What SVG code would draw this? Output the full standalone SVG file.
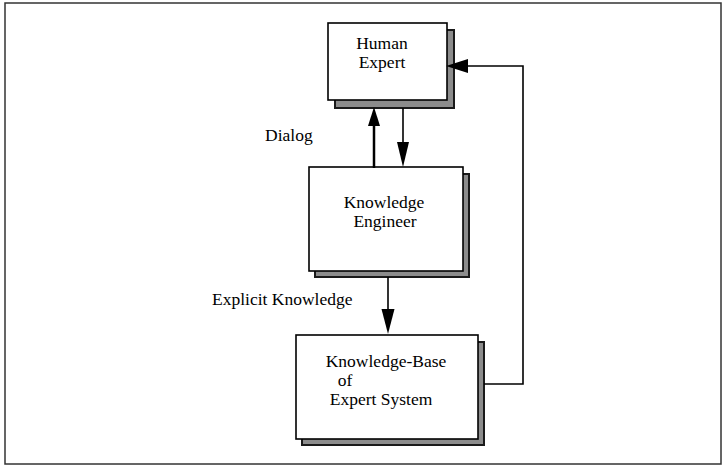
<svg xmlns="http://www.w3.org/2000/svg" width="724" height="469" viewBox="0 0 724 469">
<style>
.frame{fill:none;stroke:#333;stroke-width:1.5}
.box{fill:#fff;stroke:#000;stroke-width:1.6}
.shadow{fill:#8c8c8c;stroke:#1a1a1a;stroke-width:2}
.t{font-family:"Liberation Serif","Times New Roman",serif;font-size:17.5px;fill:#000}
.lbl{font-family:"Liberation Serif","Times New Roman",serif;font-size:17.5px;fill:#000}
.ln{fill:none;stroke:#000;stroke-width:1.6}
.head{fill:#000;stroke:none}
</style>
<rect width="724" height="469" fill="#fff"/>
<rect class="frame" x="5" y="3" width="716" height="461"/>
<g id="human-expert">
<rect class="shadow" x="335" y="30" width="119" height="78"/>
<rect class="box" x="328" y="23" width="119" height="77"/>
<text class="t" x="382" y="49" text-anchor="middle">Human</text>
<text class="t" x="382" y="68" text-anchor="middle">Expert</text>
</g>
<g id="knowledge-engineer">
<rect class="shadow" x="315" y="174" width="154" height="103"/>
<rect class="box" x="309" y="167" width="154" height="104"/>
<text class="t" x="384" y="208" text-anchor="middle">Knowledge</text>
<text class="t" x="385" y="227" text-anchor="middle">Engineer</text>
</g>
<g id="knowledge-base">
<rect class="shadow" x="302" y="342" width="182" height="103"/>
<rect class="box" x="296" y="335" width="182" height="104"/>
<text class="t" x="386" y="367" text-anchor="middle">Knowledge-Base</text>
<text class="t" x="345" y="386" text-anchor="middle">of</text>
<text class="t" x="381" y="405" text-anchor="middle">Expert System</text>
</g>
<g id="connectors">
<line class="ln" x1="374" y1="168" x2="374" y2="122" style="stroke-width:2.5"/>
<polygon class="head" points="374,107 368,126 380,126"/>
<line class="ln" x1="403" y1="108" x2="403" y2="145"/>
<polygon class="head" points="403,167 397,142 409,142"/>
<line class="ln" x1="388" y1="277" x2="388" y2="312"/>
<polygon class="head" points="388,334 381.5,309 394.5,309"/>
<polyline class="ln" points="484,384 523,384 523,66 465,66"/>
<polygon class="head" points="446,66 468,59 468,73"/>
</g>
<g id="labels">
<text class="lbl" x="265" y="141">Dialog</text>
<text class="lbl" x="212" y="305">Explicit Knowledge</text>
</g>
</svg>
